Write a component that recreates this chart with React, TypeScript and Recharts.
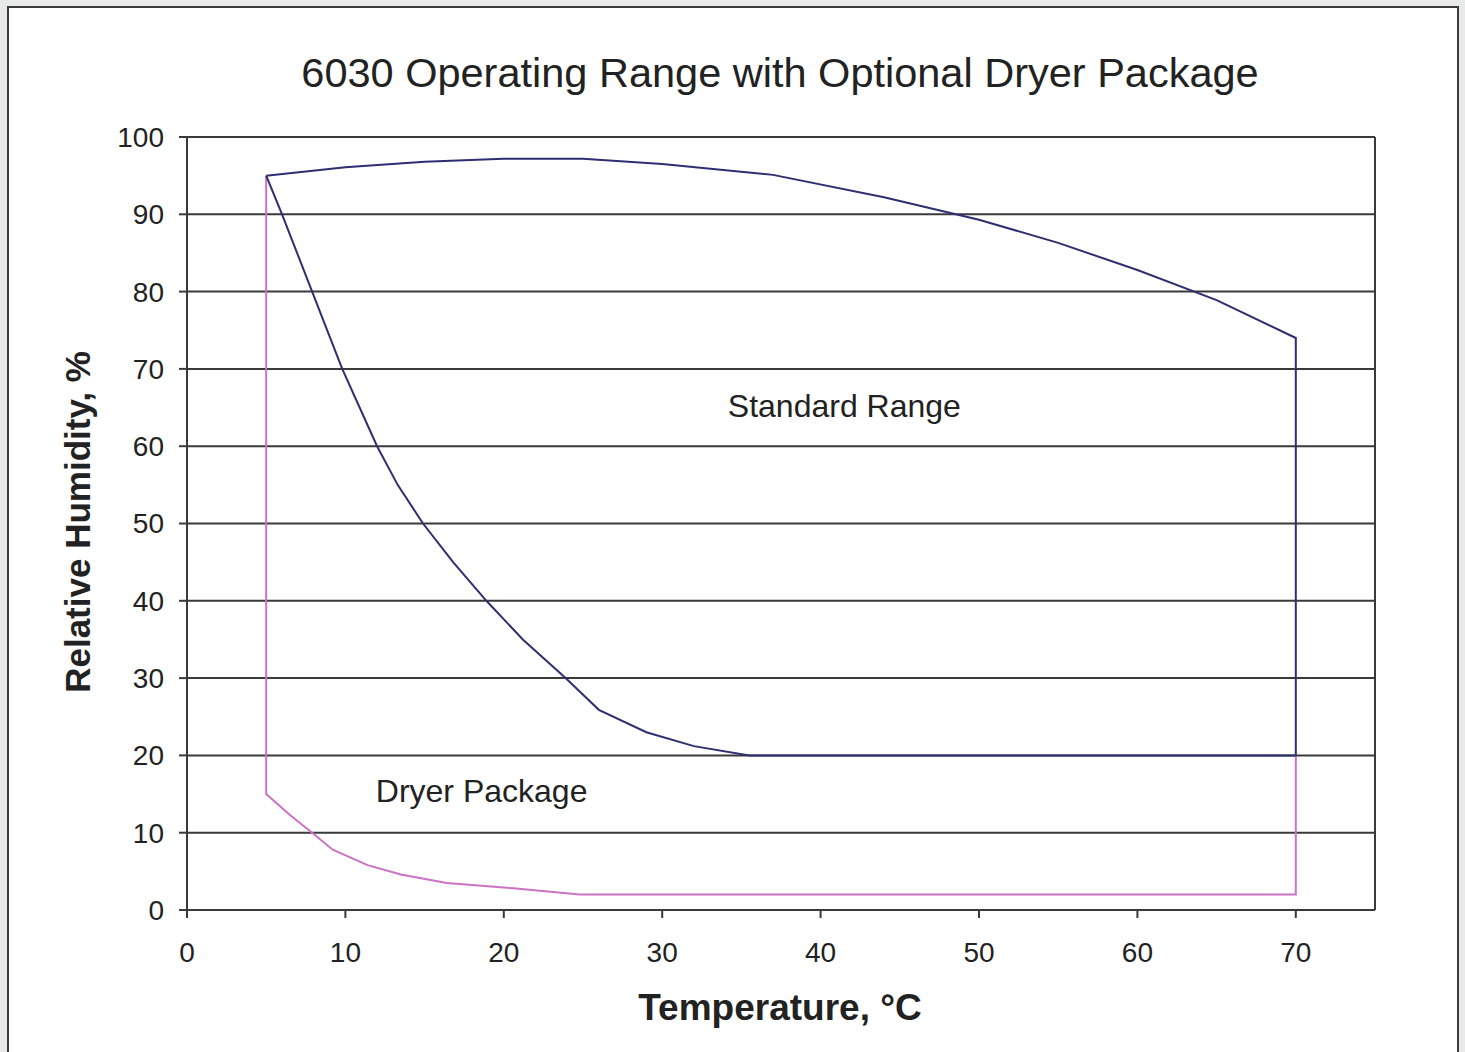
import {
  LineChart,
  Line,
  XAxis,
  YAxis,
  CartesianGrid,
  ReferenceLine,
  ReferenceDot,
} from 'recharts';

// Temperature ticks (°C) and humidity ticks (%)
const xTicks = [0, 10, 20, 30, 40, 50, 60, 70];
const yTicks = [0, 10, 20, 30, 40, 50, 60, 70, 80, 90, 100];

// Standard range outline: top curve, right edge down, bottom edge, inner curve back up
const standardTemp = [5, 10, 15, 20, 25, 30, 37, 44, 50, 55, 60, 65, 70, 70, 35.5, 32, 29, 26, 23.9, 21.2, 18.9, 16.8, 14.9, 13.3, 12, 9.8, 7.9, 6, 5];
const standardRh = [95, 96.1, 96.8, 97.2, 97.2, 96.5, 95.1, 92.2, 89.3, 86.3, 82.8, 78.9, 74, 20, 20, 21.2, 23, 25.9, 30, 35, 40, 45, 50, 55, 60, 70, 80, 90, 95];

// Dryer package outline: left edge down, lower curve, bottom edge, right edge up
const dryerTemp = [5, 5, 6.5, 7.9, 9.2, 11.4, 13.5, 16.4, 20.6, 24.8, 70, 70];
const dryerRh = [95, 15, 12.3, 10, 7.8, 5.8, 4.6, 3.5, 2.8, 2, 2, 20];

const standardData = standardTemp.map((x, i) => ({ x, y: standardRh[i] }));
const dryerData = dryerTemp.map((x, i) => ({ x, y: dryerRh[i] }));

const FONT = '"Liberation Sans", Arial, sans-serif';
const INK = '#222';
const GRID = '#3a3a3a';

export default function App() {
  return (
    <div
      style={{
        position: 'absolute',
        left: 0,
        top: 0,
        width: 1465,
        height: 1052,
        background: '#e8e9e9',
        overflow: 'hidden',
        fontFamily: FONT,
      }}
    >
      <div
        style={{
          position: 'absolute',
          left: 7,
          top: 6,
          width: 1448,
          height: 1060,
          border: '2px solid #3c3c3c',
          background: '#fff',
        }}
      />
      <div
        style={{
          position: 'absolute',
          left: 0,
          top: 48,
          width: 1560,
          textAlign: 'center',
          fontSize: 41.5,
          color: INK,
          lineHeight: '50px',
        }}
      >
        6030 Operating Range with Optional Dryer Package
      </div>
      <div
        style={{
          position: 'absolute',
          left: 0,
          top: 986,
          width: 1560,
          textAlign: 'center',
          fontSize: 37,
          fontWeight: 'bold',
          color: INK,
          lineHeight: '44px',
        }}
      >
        Temperature, °C
      </div>
      <div
        style={{
          position: 'absolute',
          left: 78,
          top: 522,
          transform: 'translate(-50%, -50%) rotate(-90deg)',
          whiteSpace: 'nowrap',
          fontSize: 35,
          fontWeight: 'bold',
          color: INK,
          lineHeight: '40px',
        }}
      >
        Relative Humidity, %
      </div>
      <div style={{ position: 'absolute', left: 0, top: 0 }}>
        <LineChart
          width={1465}
          height={1052}
          margin={{ top: 137, right: 90, bottom: 82, left: 87 }}
        >
          <CartesianGrid
            vertical={false}
            stroke={GRID}
            strokeWidth={2}
            horizontalValues={yTicks}
          />
          <XAxis
            type="number"
            dataKey="x"
            domain={[0, 75]}
            ticks={xTicks}
            allowDataOverflow
            height={60}
            stroke={GRID}
            strokeWidth={2}
            tickSize={8}
            tickMargin={24}
            tick={{ fill: INK, fontSize: 28, fontFamily: FONT }}
          />
          <YAxis
            type="number"
            dataKey="y"
            domain={[0, 100]}
            ticks={yTicks}
            width={100}
            stroke={GRID}
            strokeWidth={2}
            tickSize={8}
            tickMargin={15}
            tick={{ fill: INK, fontSize: 28, fontFamily: FONT }}
          />
          <ReferenceLine x={75} stroke={GRID} strokeWidth={2} />
          <Line
            data={dryerData}
            dataKey="y"
            type="linear"
            stroke="#cc72c4"
            strokeWidth={2}
            dot={false}
            isAnimationActive={false}
          />
          <Line
            data={standardData}
            dataKey="y"
            type="linear"
            stroke="#2e2e72"
            strokeWidth={2}
            dot={false}
            isAnimationActive={false}
          />
          <ReferenceDot
            x={41.5}
            y={65.3}
            r={0}
            label={{ value: 'Standard Range', fontSize: 32, fill: INK, fontFamily: FONT }}
          />
          <ReferenceDot
            x={18.6}
            y={15.5}
            r={0}
            label={{ value: 'Dryer Package', fontSize: 32, fill: INK, fontFamily: FONT }}
          />
        </LineChart>
      </div>
    </div>
  );
}
